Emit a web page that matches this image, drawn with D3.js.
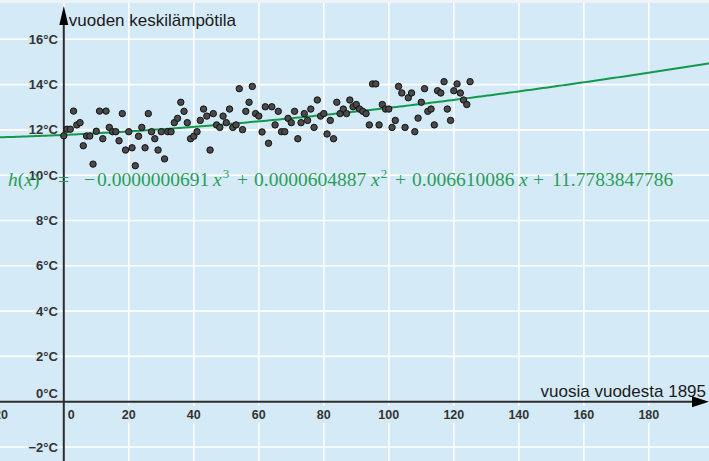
<!DOCTYPE html>
<html>
<head>
<meta charset="utf-8">
<script src="https://cdn.jsdelivr.net/npm/d3@7"></script>
<style>
  html, body { margin: 0; padding: 0; background: #ffffff; }
  svg { display: block; }
</style>
</head>
<body>
<div id="chart"></div>
<script>
// vuoden keskilämpötila (°C), vuodesta 1895 alkaen (x = 0, 1, 2, ...)
const temps = [
  11.74, 12.03, 12.03, 12.83, 12.22, 12.32, 11.30, 11.73, 11.73, 10.49,
  11.94, 12.83, 11.61, 12.83, 12.11, 11.92, 11.92, 11.52, 12.72, 11.11,
  11.92, 11.21, 10.42, 11.72, 12.11, 11.21, 12.72, 11.92, 11.61, 11.11,
  11.92, 10.72, 11.92, 11.92, 12.32, 12.51, 13.22, 12.82, 12.32, 11.61,
  11.72, 11.92, 12.42, 12.92, 12.61, 11.11, 12.72, 12.22, 12.11, 12.61,
  12.32, 12.92, 12.11, 12.22, 13.82, 12.01, 12.82, 13.22, 13.92, 12.72,
  12.61, 11.91, 13.02, 11.41, 13.02, 12.22, 12.82, 11.92, 11.92, 12.51,
  12.32, 12.82, 11.61, 12.32, 12.72, 12.42, 12.92, 12.11, 13.32, 12.61,
  12.72, 11.82, 12.42, 11.61, 13.22, 12.72, 12.92, 12.72, 13.32, 13.02,
  13.12, 12.92, 12.82, 12.72, 12.22, 14.03, 14.03, 12.22, 13.12, 12.92,
  12.92, 12.11, 12.42, 13.92, 13.63, 12.11, 13.42, 13.63, 11.92, 12.52,
  13.22, 13.82, 12.82, 12.92, 12.22, 13.73, 13.63, 14.13, 12.92, 12.42,
  13.73, 14.03, 13.63, 13.32, 13.12, 14.13
];

// h(x) = a3 x^3 + a2 x^2 + a1 x + a0
const coeffs = [-0.0000000691, 0.0000604887, 0.006610086, 11.7783847786];

const xTicks = [-20, 0, 20, 40, 60, 80, 100, 120, 140, 160, 180];
const yTicks = [-2, 0, 2, 4, 6, 8, 10, 12, 14, 16];

const width = 709, height = 461;
const bg = "#d5eaf7";
const axisColor = "#2b2b2b";
const green = "#13994a";

const x = d3.scaleLinear().domain([-19.63, 198.52]).range([0, width]);
const y = d3.scaleLinear().domain([-2.618, 17.735]).range([height, 0]);

const svg = d3.select("#chart")
    .append("svg")
    .attr("width", width)
    .attr("height", height);

svg.append("rect")
    .attr("width", width)
    .attr("height", height)
    .attr("fill", bg);

// ylareunan vaalea reunus
svg.append("rect")
    .attr("width", width)
    .attr("height", 3)
    .attr("fill", "#eef3f6");

// ruudukko
svg.append("g")
    .selectAll("line")
    .data(xTicks)
    .enter().append("line")
    .attr("x1", d => x(d)).attr("x2", d => x(d))
    .attr("y1", 3).attr("y2", height)
    .attr("stroke", "#ffffff")
    .attr("stroke-width", 1.6);

svg.append("g")
    .selectAll("line")
    .data(yTicks)
    .enter().append("line")
    .attr("x1", 0).attr("x2", width)
    .attr("y1", d => y(d)).attr("y2", d => y(d))
    .attr("stroke", "#ffffff")
    .attr("stroke-width", 1.6);

// akselit
const x0 = x(0), y0 = y(0);

svg.append("line")
    .attr("x1", 0).attr("x2", width - 14)
    .attr("y1", y0).attr("y2", y0)
    .attr("stroke", axisColor)
    .attr("stroke-width", 2);

svg.append("line")
    .attr("x1", x0).attr("x2", x0)
    .attr("y1", 20).attr("y2", height)
    .attr("stroke", axisColor)
    .attr("stroke-width", 2);

// nuolet
svg.append("path")
    .attr("d", `M${width},${y0} L${width - 17},${y0 - 5.5} L${width - 17},${y0 + 5.5} Z`)
    .attr("fill", "#000");

svg.append("path")
    .attr("d", `M${x0},6 L${x0 - 4.5},25 L${x0 + 4.5},25 Z`)
    .attr("fill", "#000");

// asteikon numerot
const labelFont = "'Liberation Sans', Arial, sans-serif";

const xLab = svg.append("g")
    .selectAll("g")
    .data(xTicks)
    .enter().append("g");

xLab.append("rect")
    .attr("x", d => (d === 0 ? x(d) + 2 : x(d) - 11))
    .attr("y", y0 + 4)
    .attr("width", d => (d === 0 ? 10 : 22))
    .attr("height", 17)
    .attr("fill", bg);

xLab.append("text")
    .attr("x", d => (d === 0 ? x(d) + 4 : d < 0 ? x(d) - 1.5 : x(d)))
    .attr("y", y0 + 17)
    .attr("text-anchor", d => (d === 0 ? "start" : "middle"))
    .style("font-family", labelFont)
    .style("font-size", "12.5px")
    .style("font-weight", "bold")
    .style("fill", "#333")
    .text(d => (d < 0 ? "\u2212" + Math.abs(d) : d));

svg.append("g")
    .selectAll("text")
    .data(yTicks)
    .enter().append("text")
    .attr("x", x0 - 6)
    .attr("y", d => (d === 0 ? y(d) - 4 : y(d) + 4.5))
    .attr("text-anchor", "end")
    .style("font-family", labelFont)
    .style("font-size", "13px")
    .style("font-weight", "bold")
    .style("fill", "#333")
    .style("paint-order", "stroke")
    .style("stroke", bg)
    .style("stroke-width", 3)
    .text(d => (d < 0 ? "\u2212" + Math.abs(d) : d) + "°C");

// akselien nimet
svg.append("text")
    .attr("x", x0 + 5)
    .attr("y", 26)
    .style("font-family", labelFont)
    .style("font-size", "17px")
    .style("fill", "#1a1a1a")
    .text("vuoden keskilämpötila");

svg.append("text")
    .attr("x", 706)
    .attr("y", y0 - 5)
    .attr("text-anchor", "end")
    .style("font-family", labelFont)
    .style("font-size", "17px")
    .style("fill", "#1a1a1a")
    .text("vuosia vuodesta 1895");

// sovitettu kayra h(x)
const h = t => coeffs[0] * t * t * t + coeffs[1] * t * t + coeffs[2] * t + coeffs[3];
const curveX = d3.range(x.domain()[0], x.domain()[1] + 1, 1);

svg.append("path")
    .datum(curveX)
    .attr("fill", "none")
    .attr("stroke", green)
    .attr("stroke-width", 2)
    .attr("d", d3.line().x(d => x(d)).y(d => y(h(d))));

// havainnot
svg.append("g")
    .selectAll("circle")
    .data(temps)
    .enter().append("circle")
    .attr("cx", (d, i) => x(i))
    .attr("cy", d => y(d))
    .attr("r", 3.2)
    .attr("fill", "#4a4a4a")
    .attr("stroke", "#111")
    .attr("stroke-width", 1);

// kaavan teksti, palat sijoitettu kuten kaavaeditorin asettelussa
const formulaY = 186;
const pieces = [
    { px: 8,   t: [["h", 1], ["(", 0], ["x", 1], [")", 0]] },
    { px: 58,  t: [["=", 0]] },
    { px: 84,  t: [["\u2212", 0]] },
    { px: 97,  t: [["0.0000000691", 0]] },
    { px: 213, t: [["x", 1]], sup: "3" },
    { px: 237, t: [["+", 0]] },
    { px: 254, t: [["0.0000604887", 0]] },
    { px: 371, t: [["x", 1]], sup: "2" },
    { px: 395, t: [["+", 0]] },
    { px: 412, t: [["0.006610086", 0]] },
    { px: 519, t: [["x", 1]] },
    { px: 533, t: [["+", 0]] },
    { px: 552, t: [["11.7783847786", 0]] }
];

const fg = svg.append("g")
    .style("font-family", "'Liberation Serif', 'Times New Roman', serif")
    .style("fill", "#2a9d5a");

pieces.forEach(p => {
    const txt = fg.append("text")
        .attr("x", p.px)
        .attr("y", formulaY)
        .style("font-size", "19.5px");
    p.t.forEach(([s, it]) => {
        txt.append("tspan").text(s).style("font-style", it ? "italic" : "normal");
    });
    if (p.sup) {
        txt.append("tspan")
            .attr("dx", 1)
            .attr("dy", -8)
            .style("font-size", "13px")
            .text(p.sup);
    }
});
</script>
</body>
</html>
